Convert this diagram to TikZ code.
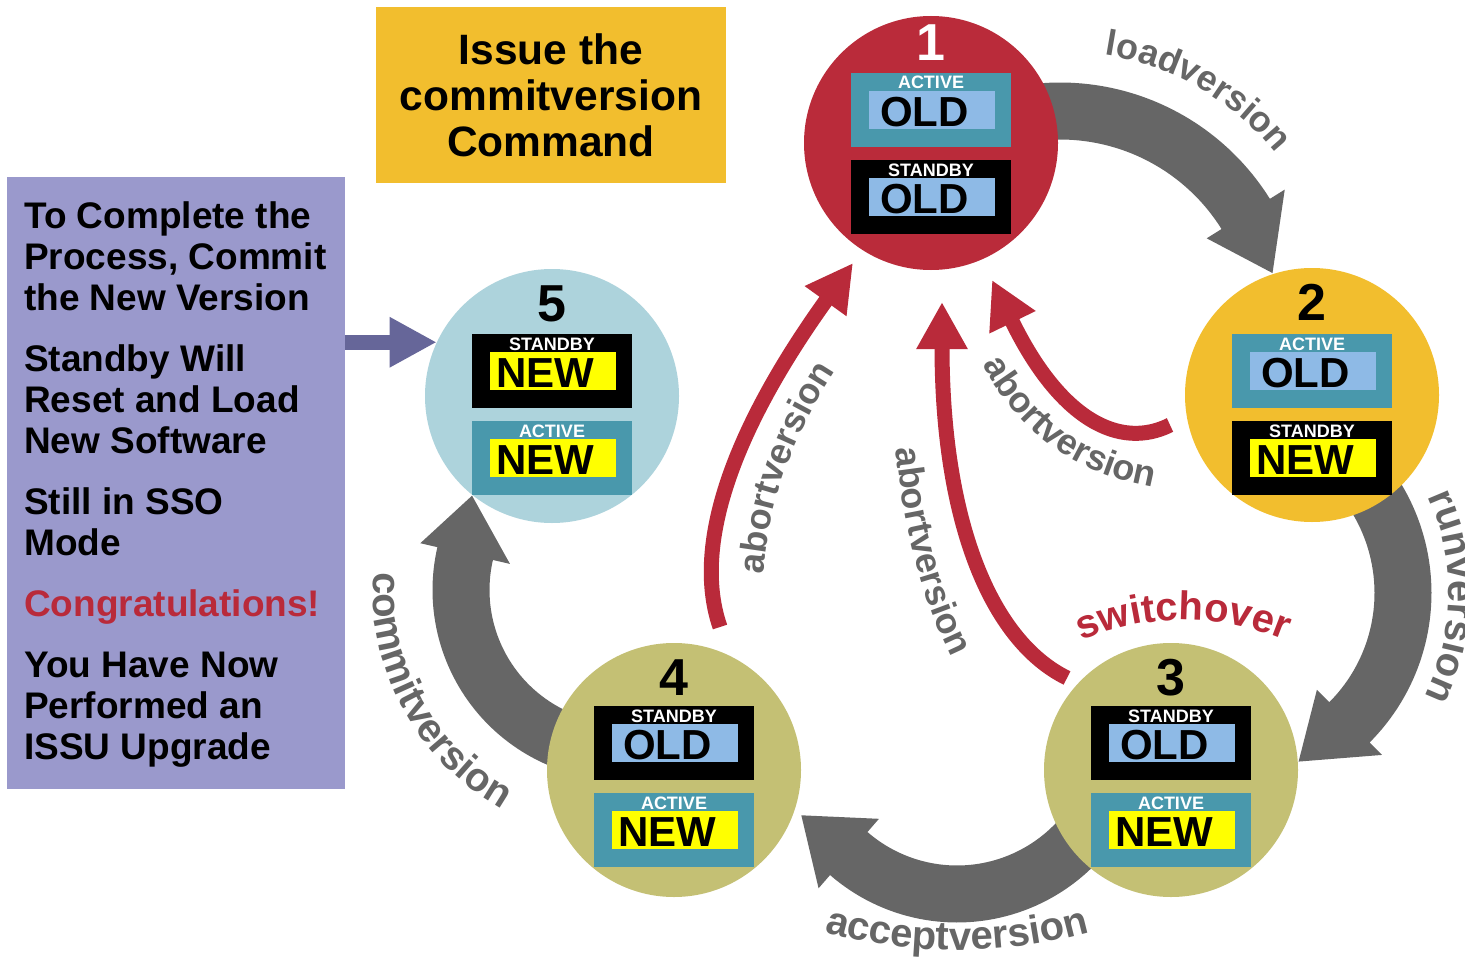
\documentclass[tikz,border=0pt]{standalone}
\usepackage{fontspec}
\setmainfont{Liberation Sans}
\usetikzlibrary{arrows.meta,decorations.text}
\definecolor{cred}{RGB}{186,43,58}
\definecolor{corange}{RGB}{242,190,46}
\definecolor{colive}{RGB}{196,192,116}
\definecolor{clblue}{RGB}{173,211,220}
\definecolor{cteal}{RGB}{73,152,172}
\definecolor{cinner}{RGB}{142,186,230}
\definecolor{cyel}{RGB}{255,255,0}
\definecolor{cpurple}{RGB}{154,153,204}
\definecolor{cparrow}{RGB}{102,102,153}
\definecolor{cgray}{RGB}{102,102,102}
\definecolor{cabort}{RGB}{185,42,58}
\newcommand\numfont{\fontsize{52pt}{52pt}\selectfont\bfseries}
\newcommand\tagfont{\fontsize{18pt}{18pt}\selectfont\bfseries}
\newcommand\wordfont{\fontsize{42pt}{42pt}\selectfont\bfseries}
\newcommand\cmdfont{\fontsize{42.5pt}{46pt}\selectfont\bfseries}
\newcommand\sidefont{\fontsize{37pt}{41pt}\selectfont\bfseries}
\newcommand\lblfont{\fontsize{40pt}{40pt}\selectfont\bfseries}
\newcommand\lblfontsm{\fontsize{36pt}{36pt}\selectfont\bfseries}
% state box: name, cx, top, box colour, tag, inner colour, word
\newcommand\stbox[7]{%
  \node[outerbox, fill=#4] (#1) at (#2,#3) {};
  \node[tagtext] (#1tag) at (#2,#3+16) {#5};
  \node[innerbox, fill=#6] (#1in) at (#2+0.5,#3+17.5) {};
  \node[wordtext] (#1word) at (#2-6.5,#3+53.5) {#7};}
% gray block arrow along an arc: cx, cy, R, start, base, tip angle, tip radius
\newcommand\grayarc[7]{%
  \fill[cgray] plot[domain=#4:#5, samples=50] ({#1+(#3+28.5)*cos(\x)},{#2+(#3+28.5)*sin(\x)})
    -- ({#1+(#3+46)*cos(#5)},{#2+(#3+46)*sin(#5)})
    -- ({#1+#7*cos(#6)},{#2+#7*sin(#6)})
    -- ({#1+(#3-46)*cos(#5)},{#2+(#3-46)*sin(#5)})
    -- plot[domain=#5:#4, samples=50] ({#1+(#3-28.5)*cos(\x)},{#2+(#3-28.5)*sin(\x)})
    -- cycle;}
\begin{document}
\begin{tikzpicture}[x=1pt,y=-1pt,
  state/.style={circle, minimum size=254pt, inner sep=0pt, draw=none},
  outerbox/.style={rectangle, minimum width=160pt, minimum height=73.5pt, inner sep=0pt, anchor=north},
  innerbox/.style={rectangle, minimum width=126pt, minimum height=38.5pt, inner sep=0pt, anchor=north},
  tagtext/.style={text=white, font=\tagfont, anchor=base, inner sep=0pt},
  wordtext/.style={text=black, font=\wordfont, anchor=base, inner sep=0pt},
  numtext/.style={font=\numfont, anchor=base, inner sep=0pt},
  redarrow/.style={draw=cabort, line width=15pt, -{Triangle[length=47pt,width=48pt]}},
  graylabel/.style={decorate, decoration={text along path, text align=center, text color=cgray}},
]
\clip (0,0) rectangle (1465,963);
\fill[white] (0,0) rectangle (1465,963);

% gray block arrows
\grayarc{1060}{330}{219}{-100}{-32}{-15}{220}
\grayarc{1220}{593}{183}{-40}{45}{65}{186}
\grayarc{957}{729}{165}{40}{131}{151}{178}
\grayarc{623}{590}{162}{108}{193}{212}{178}

% text boxes
\node[fill=corange, minimum width=350pt, minimum height=176pt, inner sep=0pt] (cmdbox) at (551,95) {};
\node[font=\cmdfont, align=center, inner sep=0pt] (cmdtext) at (551,95) {Issue the\\commitversion\\Command};
\node[fill=cpurple, minimum width=338pt, minimum height=612pt, inner sep=0pt, anchor=north west] (sidebox) at (7,177) {};
\node[font=\sidefont, align=left, anchor=north west, inner sep=0pt] (sidetext) at (24,201)
  {To Complete the\\Process, Commit\\the New Version\\[20pt]Standby Will\\Reset and Load\\New Software\\[20pt]Still in SSO\\Mode\\[20pt]{\color{cabort}Congratulations!}\\[20pt]You Have Now\\Performed an\\ISSU Upgrade};

% circles
\node[state, fill=cred] (c1) at (931,143) {};
\node[state, fill=corange] (c2) at (1312,395) {};
\node[state, fill=colive] (c3) at (1171,770) {};
\node[state, fill=colive] (c4) at (674,770) {};
\node[state, fill=clblue] (c5) at (552,396) {};

\draw[line width=15pt, draw=cparrow, -{Triangle[length=47pt,width=47pt]}] (sidebox.east |- c5.155) -- (c5.155);

% circle contents
\node[numtext, text=white] (n1) at (931,61) {1};
\stbox{b1a}{931}{73}{cteal}{ACTIVE}{cinner}{OLD}
\stbox{b1b}{931}{160}{black}{STANDBY}{cinner}{OLD}
\node[numtext] (n2) at (1312,320) {2};
\stbox{b2a}{1312}{334}{cteal}{ACTIVE}{cinner}{OLD}
\stbox{b2b}{1312}{421}{black}{STANDBY}{cyel}{NEW}
\node[numtext] (n3) at (1171,695) {3};
\stbox{b3a}{1171}{706}{black}{STANDBY}{cinner}{OLD}
\stbox{b3b}{1171}{793}{cteal}{ACTIVE}{cyel}{NEW}
\node[numtext] (n4) at (674,695) {4};
\stbox{b4a}{674}{706}{black}{STANDBY}{cinner}{OLD}
\stbox{b4b}{674}{793}{cteal}{ACTIVE}{cyel}{NEW}
\node[numtext] (n5) at (552,321) {5};
\stbox{b5a}{552}{334}{black}{STANDBY}{cyel}{NEW}
\stbox{b5b}{552}{421}{cteal}{ACTIVE}{cyel}{NEW}

% red abort arrows
\coordinate (aAs) at (720,627);
\coordinate (aAe) at (853,263);
\coordinate (aBs) at (1067,678);
\coordinate (aBe) at (942,302);
\coordinate (aCs) at (1170,425);
\coordinate (aCe) at (992,280);
\draw[redarrow] (aAs) .. controls (690,540) and (740,420) .. (aAe);
\draw[redarrow] (aBs) .. controls (990,640) and (942,520) .. (aBe);
\draw[redarrow] (aCs) .. controls (1120,450) and (1060,420) .. (aCe);

% curved labels
\path[graylabel, decoration={text={|\lblfontsm|loadversion}}]
  plot[domain=-100:-20, samples=60] ({1060+279*cos(\x)},{330+279*sin(\x)});
\path[graylabel, decoration={text={|\lblfont|runversion}}]
  plot[domain=-40:42, samples=60] ({1220+229*cos(\x)},{593+229*sin(\x)});
\path[graylabel, decoration={text={|\lblfont|acceptversion}}]
  plot[domain=106:74, samples=60] ({957+500*cos(\x)},{450+500*sin(\x)});
\path[graylabel, decoration={text={|\lblfont|commitversion}}]
  plot[domain=191:112, samples=60] ({623+250*cos(\x)},{590+250*sin(\x)});
\path[graylabel, decoration={text={|\lblfontsm|abortversion}}]
  (762,600) .. controls (765,520) and (780,450) .. (850,350);
\path[graylabel, decoration={text={|\lblfontsm|abortversion}}]
  (893,400) .. controls (897,520) and (925,620) .. (975,700);
\path[graylabel, decoration={text={|\lblfontsm|abortversion}}]
  (975,350) .. controls (1010,420) and (1060,475) .. (1170,490);
\path[decorate, decoration={text along path, text align=center, text color=cabort, text={|\lblfont|switchover}}]
  plot[domain=-118:-62, samples=60] ({1183+261*cos(\x)},{881+261*sin(\x)});
\end{tikzpicture}
\end{document}
